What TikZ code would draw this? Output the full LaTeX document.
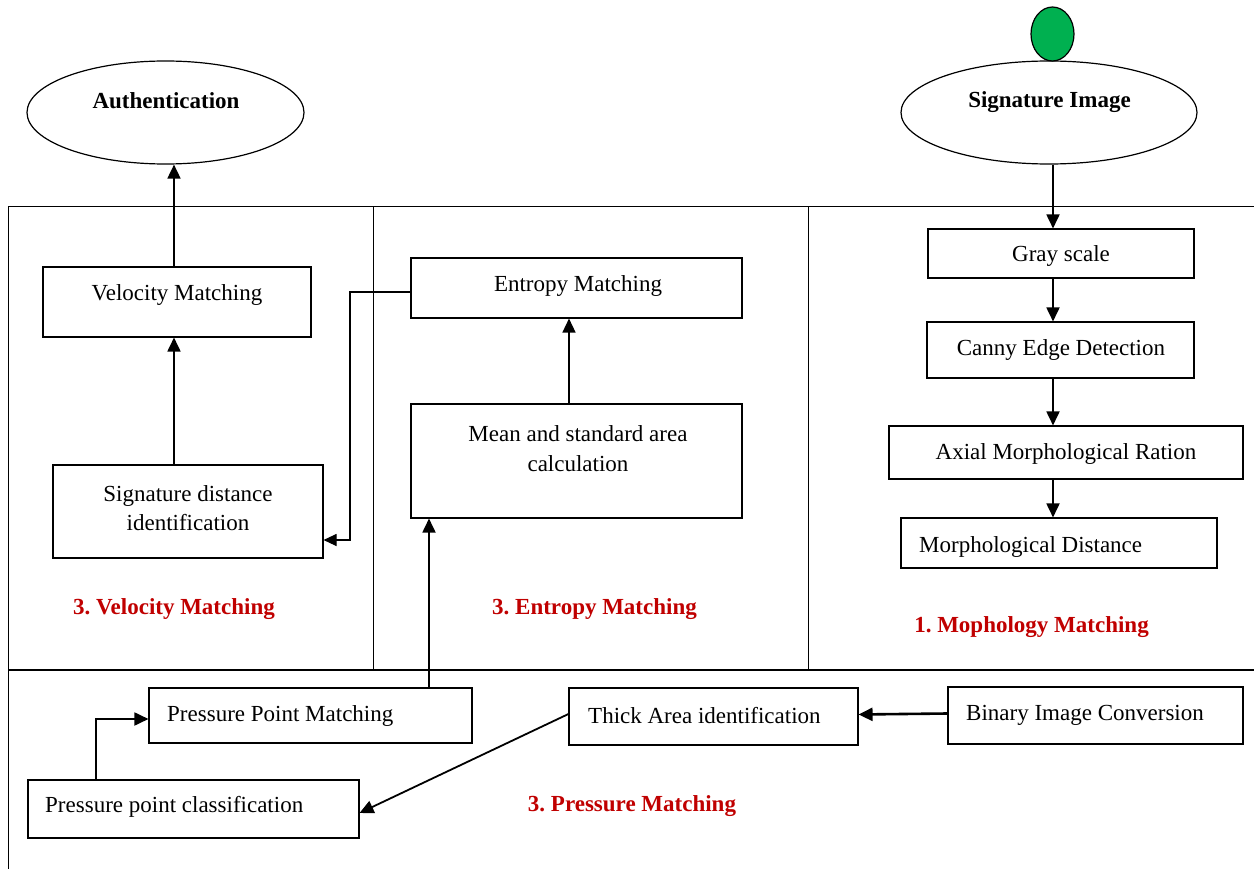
\documentclass[tikz,border=0pt]{standalone}
\usepackage{fontspec}
\setmainfont{Liberation Serif}
\usetikzlibrary{arrows.meta,shapes.geometric}
\definecolor{lblred}{RGB}{192,0,0}
\definecolor{dotgreen}{RGB}{0,176,80}
\newcommand{\bigfont}{\fontsize{23}{29.5}\selectfont}
\frenchspacing
\tikzset{
  boxnode/.style={draw, line width=1.1pt, inner sep=0pt},
  txt/.style={inner sep=0pt, align=center},
  boldtxt/.style={inner sep=0pt, align=center, font=\bigfont\bfseries},
  frameline/.style={line width=1pt},
  arr/.style={-{Triangle[length=14pt,width=13pt]}, line width=1.8pt},
  thinarr/.style={-{Triangle[length=13pt,width=12pt]}, line width=1.1pt},
  lbl/.style={inner sep=0pt, text=lblred, font=\bigfont\bfseries},
  oval/.style={draw, ellipse, line width=1.2pt, inner sep=0pt}
}
\begin{document}
\begin{tikzpicture}[x=1pt,y=-1pt,font=\bigfont]
\useasboundingbox (0,0) rectangle (1254,869);
% frame
\draw[frameline] (1254,207) -- (8,207) -- (8,869);
\draw[frameline] (373,207) -- (373,670);
\draw[frameline] (808,207) -- (808,670);
\draw[line width=2.3pt] (8,670) -- (1254,670);
% ellipses
\node[oval, minimum width=277pt, minimum height=103pt] (auth) at (165.5,112.5) {};
\node[boldtxt] (autht) at (166,101) {Authentication};
\node[oval, minimum width=296pt, minimum height=103pt] (sig) at (1049,112.5) {};
\node[boldtxt] (sigt) at (1049.5,102) {Signature Image};
\node[draw, ellipse, fill=dotgreen, line width=1.2pt, inner sep=0pt, minimum width=43pt, minimum height=54pt] (green) at (1052.5,34) {};
% velocity column
\node[boxnode, minimum width=268pt, minimum height=70pt] (vel) at (177,302) {};
\node[txt] (velt) at (177,295) {Velocity Matching};
\node[boxnode, minimum width=270pt, minimum height=93pt] (sdi) at (188,511.5) {};
\node[txt] (sdit) at (188,508) {Signature distance\\identification};
\node[lbl] (vell) at (174,609) {3. Velocity Matching};
% entropy column
\node[boxnode, minimum width=331pt, minimum height=60pt] (ent) at (576.5,288) {};
\node[txt] (entt) at (578,286) {Entropy Matching};
\node[boxnode, minimum width=331pt, minimum height=114pt] (mean) at (576.5,461) {};
\node[txt] (meant) at (578,448.5) {Mean and standard area\\calculation};
\node[lbl] (entl) at (594.5,609) {3. Entropy Matching};
% morphology column
\node[boxnode, minimum width=266pt, minimum height=49pt] (gray) at (1061,253.5) {};
\node[txt] (grayt) at (1061,256) {Gray scale};
\node[boxnode, minimum width=267pt, minimum height=56pt] (canny) at (1060.5,350) {};
\node[txt] (cannyt) at (1061,350) {Canny Edge Detection};
\node[boxnode, minimum width=354pt, minimum height=53pt] (axial) at (1066,452.5) {};
\node[txt] (axialt) at (1066,454) {Axial Morphological Ration};
\node[boxnode, minimum width=316pt, minimum height=50pt] (morph) at (1059,543) {};
\node[txt, anchor=west] (morpht) at (919,547) {Morphological Distance};
\node[lbl] (morphl) at (1031.5,627) {1. Mophology Matching};
% pressure row
\node[boxnode, minimum width=323pt, minimum height=55pt] (ppm) at (310.5,715.5) {};
\node[txt, anchor=west] (ppmt) at (167,716) {Pressure Point Matching};
\node[boxnode, minimum width=331pt, minimum height=58pt] (ppc) at (193.5,809) {};
\node[txt, anchor=west] (ppct) at (45,807) {Pressure point classification};
\node[boxnode, minimum width=289pt, minimum height=57pt] (thick) at (713.5,716.5) {};
\node[txt, anchor=west] (thickt) at (588,716) {Thick Area identification};
\node[boxnode, minimum width=295pt, minimum height=57pt] (bin) at (1095.5,715.5) {};
\node[txt, anchor=west] (bint) at (966,715) {Binary Image Conversion};
\node[lbl] (presl) at (632,806) {3. Pressure Matching};
% helper coordinates
\coordinate (chainx) at (1053,0);
\coordinate (entx) at (350,0);
\coordinate (ppmx) at (429,0);
\coordinate (ppcx) at (96,0);
\coordinate (velx) at (174,0);
\coordinate (meanx) at (569,0);
% connectors
\draw[arr] (velx |- vel.north) -- (velx |- auth.south);
\draw[arr] (velx |- sdi.north) -- (velx |- vel.south);
\draw[thinarr] ([yshift=-4pt]ent.west) -- ([yshift=-4pt]entx |- ent.west) -- (entx |- 0,540) -- (sdi.east |- 0,540);
\draw[arr, line width=1.4pt] (meanx |- mean.north) -- (meanx |- ent.south);
\draw[arr] (ppmx |- ppm.north) -- (ppmx |- mean.south);
\draw[arr] (chainx |- sig.south) -- (chainx |- gray.north);
\draw[arr] (chainx |- gray.south) -- (chainx |- canny.north);
\draw[arr] (chainx |- canny.south) -- (chainx |- axial.north);
\draw[arr] (chainx |- axial.south) -- (chainx |- morph.north);
\draw[arr] (ppcx |- ppc.north) -- (ppcx |- 0,719) -- (ppm.west |- 0,719);
\draw[arr] ([yshift=2.5pt]thick.west) -- ([yshift=-4pt]ppc.east);
\draw[arr, line width=2.6pt] ([yshift=2pt]bin.west) -- ([yshift=2pt]thick.east);
\end{tikzpicture}
\end{document}
